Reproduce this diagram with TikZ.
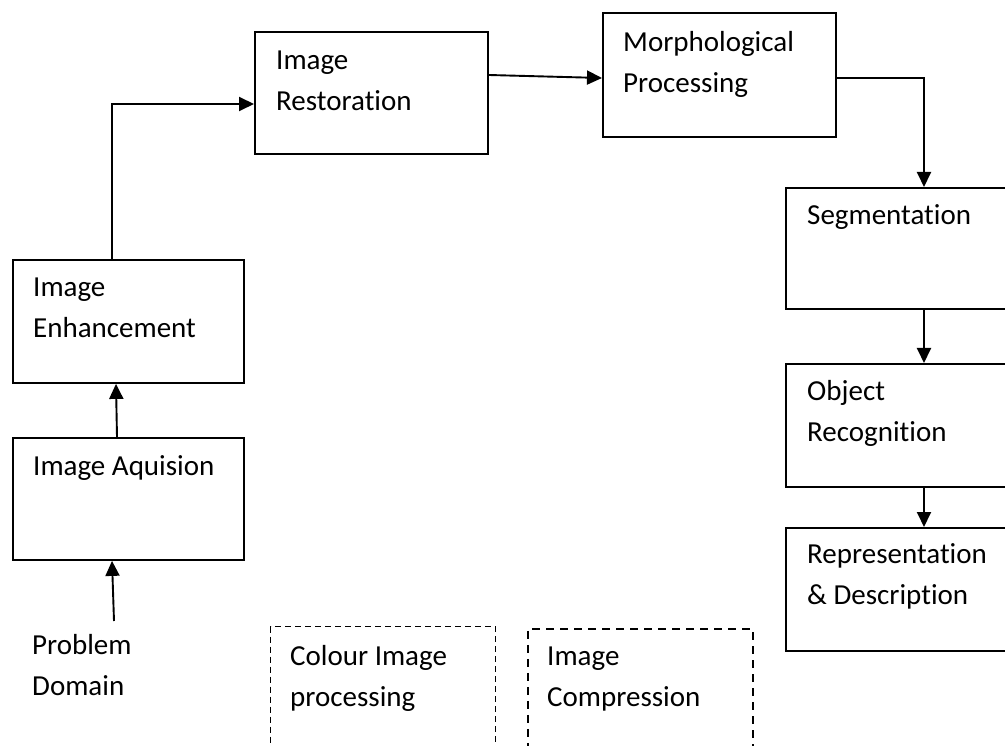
\documentclass[tikz,border=0pt]{standalone}
\usepackage{fontspec}
\setmainfont{Carlito}[Ligatures=NoCommon]
\usetikzlibrary{arrows.meta,calc}
\tikzset{
  box/.style={draw, line width=1.9pt, inner sep=0pt, anchor=north west, minimum width=233pt},
  dbox/.style={draw, line width=1.2pt, dash pattern=on 6pt off 4pt, inner sep=0pt, anchor=north west, minimum width=225pt, minimum height=150pt},
  dboxthick/.style={draw, line width=1.9pt, dash pattern=on 8pt off 6pt, inner sep=0pt, anchor=north west, minimum width=225pt, minimum height=150pt},
  txt/.style={anchor=base west, inner sep=0pt, font=\fontsize{29}{41}\selectfont},
  arr/.style={line width=1.9pt, -{Triangle[length=15pt,width=14pt]}},
}
\newcommand{\lines}[1]{\begin{tabular}[t]{@{}l@{}}#1\end{tabular}}
\begin{document}
\begin{tikzpicture}[x=1pt,y=-1pt]
\clip (0,0) rectangle (1005,746);
% boxes
\node[box, minimum width=231pt, minimum height=123pt] (enh) at (12,259) {};
\node[box, minimum width=231pt, minimum height=122pt] (aq) at (12,437) {};
\node[box, minimum height=122pt] (rest) at (254,31) {};
\node[box, minimum height=124pt] (morph) at (602,12) {};
\node[box, minimum height=121pt] (seg) at (785,187) {};
\node[box, minimum height=123pt] (obj) at (785,363) {};
\node[box, minimum height=123pt] (rep) at (785,527) {};
\node[dbox] (colour) at (270,626) {};
\node[dboxthick] (comp) at (527,628) {};
% texts
\node[txt] (enhT) at ($(enh.north west)+(21,38)$) {\lines{Image\\Enhancement}};
\node[txt] (aqT) at ($(aq.north west)+(21,38)$) {\lines{Image Aquision}};
\node[txt] (restT) at ($(rest.north west)+(22,39)$) {\lines{Image\\Restoration}};
\node[txt] (morphT) at ($(morph.north west)+(21,40)$) {\lines{Morphological\\Processing}};
\node[txt] (segT) at ($(seg.north west)+(22,38)$) {\lines{Segmentation}};
\node[txt] (objT) at ($(obj.north west)+(22,37)$) {\lines{Object\\Recognition}};
\node[txt] (repT) at ($(rep.north west)+(22,36)$) {\lines{Representation\\\& Description}};
\node[txt] (pd) at (32,654) {\lines{Problem\\Domain}};
\node[txt] (colourT) at ($(colour.north west)+(20,39)$) {\lines{Colour Image\\processing}};
\node[txt] (compT) at ($(comp.north west)+(20,37)$) {\lines{Image\\Compression}};
% connectors
\coordinate (pdtop) at (114,621);
\draw[arr] (pdtop) -- ($(aq.south west)+(100,0)$);
\draw[arr] ($(aq.north west)+(105,0)$) -- ($(enh.south west)+(104,0)$);
\draw[arr] ($(enh.north west)+(100,0)$) |- ($(rest.north west)+(0,73)$);
\draw[arr] ($(rest.north east)+(0,44)$) -- ($(morph.north west)+(0,66)$);
\draw[arr] ($(morph.north east)+(0,66)$) -| ($(seg.north west)+(139,0)$);
\draw[arr] ($(seg.south west)+(139,0)$) -- ($(obj.north west)+(139,0)$);
\draw[arr] ($(obj.south west)+(139,0)$) -- ($(rep.north west)+(139,0)$);
\end{tikzpicture}
\end{document}
